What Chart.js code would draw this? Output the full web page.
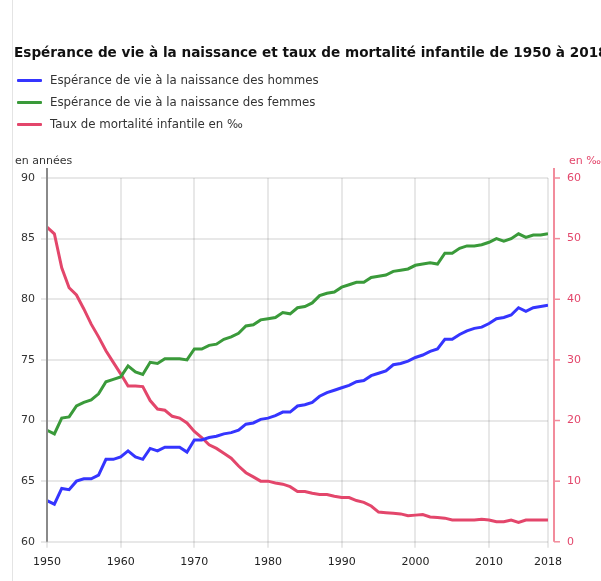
<!DOCTYPE html>
<html lang="fr">
<head>
<meta charset="UTF-8">
<title>Espérance de vie et mortalité infantile</title>
<script src="https://cdn.jsdelivr.net/npm/chart.js"></script>
<style>
  body { margin: 0; background: #fff; font-family: "DejaVu Sans", Verdana, sans-serif; color: #333; overflow: hidden; }
  #cadre { position: relative; width: 601px; height: 581px; overflow: hidden; }
  #bord { position: absolute; left: 12px; top: 0; width: 1px; height: 581px; background: #e4e4e4; }
  #titre { position: absolute; left: 14px; top: 44px; font-weight: bold; font-size: 13.6px; white-space: nowrap; color: #111; }
  .leg { position: absolute; left: 17px; font-size: 11.8px; line-height: 16px; white-space: nowrap; }
  .leg span { display: inline-block; width: 25px; height: 3px; vertical-align: middle; margin-right: 8px; border-radius: 1px; }
  canvas { position: absolute; left: 0; top: 0; }
</style>
</head>
<body>
<div id="cadre">
  <div id="bord"></div>
  <canvas id="graphe" width="601" height="581"></canvas>
  <div id="titre">Espérance de vie à la naissance et taux de mortalité infantile de 1950 à 2018</div>
  <div class="leg" style="top:72px"><span style="background:#3535ff"></span>Espérance de vie à la naissance des hommes</div>
  <div class="leg" style="top:94px"><span style="background:#3a9a3a"></span>Espérance de vie à la naissance des femmes</div>
  <div class="leg" style="top:116px"><span style="background:#e3466b"></span>Taux de mortalité infantile en ‰</div>
</div>

<script>
// données
const annees = [1950, 1951, 1952, 1953, 1954, 1955, 1956, 1957, 1958, 1959,
  1960, 1961, 1962, 1963, 1964, 1965, 1966, 1967, 1968, 1969,
  1970, 1971, 1972, 1973, 1974, 1975, 1976, 1977, 1978, 1979,
  1980, 1981, 1982, 1983, 1984, 1985, 1986, 1987, 1988, 1989,
  1990, 1991, 1992, 1993, 1994, 1995, 1996, 1997, 1998, 1999,
  2000, 2001, 2002, 2003, 2004, 2005, 2006, 2007, 2008, 2009,
  2010, 2011, 2012, 2013, 2014, 2015, 2016, 2017, 2018];

const hommes = [63.4, 63.1, 64.4, 64.3, 65.0, 65.2, 65.2, 65.5, 66.8, 66.8,
  67.0, 67.5, 67.0, 66.8, 67.7, 67.5, 67.8, 67.8, 67.8, 67.4,
  68.4, 68.4, 68.6, 68.7, 68.9, 69.0, 69.2, 69.7, 69.8, 70.1,
  70.2, 70.4, 70.7, 70.7, 71.2, 71.3, 71.5, 72.0, 72.3, 72.5,
  72.7, 72.9, 73.2, 73.3, 73.7, 73.9, 74.1, 74.6, 74.7, 74.9,
  75.2, 75.4, 75.7, 75.9, 76.7, 76.7, 77.1, 77.4, 77.6, 77.7,
  78.0, 78.4, 78.5, 78.7, 79.3, 79.0, 79.3, 79.4, 79.5];

const femmes = [69.2, 68.9, 70.2, 70.3, 71.2, 71.5, 71.7, 72.2, 73.2, 73.4,
  73.6, 74.5, 74.0, 73.8, 74.8, 74.7, 75.1, 75.1, 75.1, 75.0,
  75.9, 75.9, 76.2, 76.3, 76.7, 76.9, 77.2, 77.8, 77.9, 78.3,
  78.4, 78.5, 78.9, 78.8, 79.3, 79.4, 79.7, 80.3, 80.5, 80.6,
  81.0, 81.2, 81.4, 81.4, 81.8, 81.9, 82.0, 82.3, 82.4, 82.5,
  82.8, 82.9, 83.0, 82.9, 83.8, 83.8, 84.2, 84.4, 84.4, 84.5,
  84.7, 85.0, 84.8, 85.0, 85.4, 85.1, 85.3, 85.3, 85.4];

const mortalite = [51.9, 50.8, 45.2, 41.9, 40.7, 38.4, 35.9, 33.8, 31.5, 29.6,
  27.7, 25.7, 25.7, 25.6, 23.3, 21.9, 21.7, 20.7, 20.4, 19.6,
  18.2, 17.2, 16.0, 15.4, 14.6, 13.8, 12.5, 11.4, 10.7, 10.0,
  10.0, 9.7, 9.5, 9.1, 8.3, 8.3, 8.0, 7.8, 7.8, 7.5,
  7.3, 7.3, 6.8, 6.5, 5.9, 4.9, 4.8, 4.7, 4.6, 4.3,
  4.4, 4.5, 4.1, 4.0, 3.9, 3.6, 3.6, 3.6, 3.6, 3.7,
  3.6, 3.3, 3.3, 3.6, 3.2, 3.6, 3.6, 3.6, 3.6];

const ticksAnnees = [1950, 1960, 1970, 1980, 1990, 2000, 2010, 2018];

const bleu = '#3535ff';
const vert = '#3a9a3a';
const rouge = '#e3466b';
const rougeAxe = '#f28c9c';
const grille = 'rgba(0,0,0,0.09)';

function points(valeurs) {
  return valeurs.map((v, i) => ({ x: annees[i], y: v }));
}

// axes dessinés à la main (lignes verticales gauche et droite + unités)
const axesTraces = {
  id: 'axesTraces',
  afterDatasetsDraw(chart) {
    const ctx = chart.ctx;
    const a = chart.chartArea;
    const y1 = chart.scales.y1;
    ctx.save();
    // axe gauche
    ctx.strokeStyle = '#8a8a8a';
    ctx.lineWidth = 2;
    ctx.beginPath();
    ctx.moveTo(a.left, a.top - 10);
    ctx.lineTo(a.left, a.bottom);
    ctx.stroke();
    // axe droit
    const xd = a.right + 6;
    ctx.strokeStyle = rougeAxe;
    ctx.beginPath();
    ctx.moveTo(xd, a.top - 10);
    ctx.lineTo(xd, a.bottom);
    ctx.stroke();
    ctx.lineWidth = 1.5;
    y1.ticks.forEach(t => {
      const py = y1.getPixelForValue(t.value);
      ctx.beginPath();
      ctx.moveTo(xd, py);
      ctx.lineTo(xd + 6, py);
      ctx.stroke();
    });
    // unités
    ctx.font = '11px "DejaVu Sans"';
    ctx.textBaseline = 'middle';
    ctx.fillStyle = '#333';
    ctx.fillText('en années', 15, 161);
    ctx.fillStyle = rouge;
    ctx.fillText('en ‰', 569, 161);
    ctx.restore();
  }
};

const ctx = document.getElementById('graphe').getContext('2d');
new Chart(ctx, {
  type: 'line',
  data: {
    datasets: [
      { data: points(hommes), borderColor: bleu, yAxisID: 'y' },
      { data: points(femmes), borderColor: vert, yAxisID: 'y' },
      { data: points(mortalite), borderColor: rouge, yAxisID: 'y1' }
    ]
  },
  options: {
    responsive: false,
    animation: false,
    layout: { padding: { left: 15, right: 1, top: 178, bottom: 4 } },
    elements: {
      line: { borderWidth: 3, tension: 0 },
      point: { radius: 0, hoverRadius: 0 }
    },
    plugins: {
      legend: { display: false },
      tooltip: { enabled: false }
    },
    scales: {
      x: {
        type: 'linear',
        min: 1950,
        max: 2018,
        afterBuildTicks: scale => { scale.ticks = ticksAnnees.map(v => ({ value: v })); },
        grid: { color: grille, lineWidth: 2, tickLength: 6 },
        border: { display: false },
        ticks: { color: '#222', padding: 8, font: { family: 'DejaVu Sans', size: 11 }, maxRotation: 0, callback: v => String(v) }
      },
      y: {
        position: 'left',
        min: 60,
        max: 90,
        ticks: { stepSize: 5, color: '#333', padding: 6, font: { family: 'DejaVu Sans', size: 11 } },
        grid: { color: grille, lineWidth: 2, tickLength: 6 },
        border: { display: false }
      },
      y1: {
        position: 'right',
        min: 0,
        max: 60,
        ticks: { stepSize: 10, color: rouge, padding: 19, font: { family: 'DejaVu Sans', size: 11 } },
        grid: { drawOnChartArea: false, drawTicks: false },
        border: { display: false }
      }
    }
  },
  plugins: [axesTraces]
});
</script>
</body>
</html>
